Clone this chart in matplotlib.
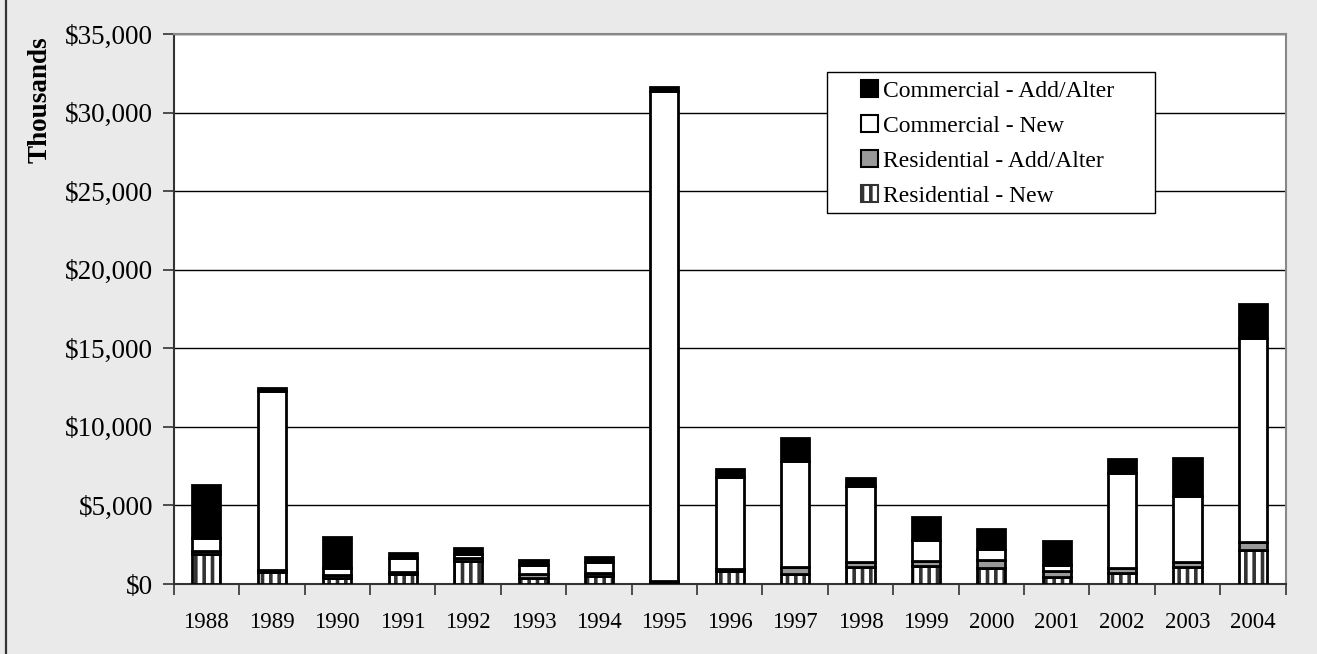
import matplotlib
matplotlib.use('Agg')
import matplotlib.pyplot as plt
import matplotlib.ticker as mticker
from matplotlib.patches import Patch, Rectangle
import numpy as np

years=['1988','1989','1990','1991','1992','1993','1994','1995','1996',
       '1997','1998','1999','2000','2001','2002','2003','2004']
# values in $ thousands
res_new=[1910,740,380,650,1490,380,530,100,820,640,1100,1170,1040,470,720,1060,2170]
res_add=[200,150,200,100,150,250,200,100,150,420,280,320,490,380,320,360,530]
comm_new=[790,11390,450,900,300,550,700,31200,5850,6740,4850,1280,680,360,6010,4210,12960]
comm_add=[3400,200,1960,320,380,330,260,200,500,1510,530,1490,1300,1550,930,2420,2130]

plt.rcParams['font.family']=['Liberation Serif','DejaVu Serif']
plt.rcParams['hatch.linewidth']=2.6

W,H=1317,654
fig=plt.figure(figsize=[W/100,H/100],dpi=100,facecolor='#eaeaea')
ax=fig.add_axes([0.1319,0.107,0.8443,0.841])
ax.set_facecolor('white')

x=np.arange(len(years))
w=0.43
lw=2.0
b1=np.array(res_new)
b2=b1+np.array(res_add)
b3=b2+np.array(comm_new)

# residential new: striped fill, then outline on top
ax.bar(x,res_new,w,color='white',edgecolor='#333333',hatch='||',linewidth=0,zorder=3)
ax.bar(x,res_new,w,color='none',edgecolor='black',linewidth=lw,zorder=4)
ax.bar(x,res_add,w,bottom=b1,color='#999999',edgecolor='black',linewidth=lw,zorder=4)
ax.bar(x,comm_new,w,bottom=b2,color='white',edgecolor='black',linewidth=lw,zorder=4)
ax.bar(x,comm_add,w,bottom=b3,color='black',edgecolor='black',linewidth=lw,zorder=4)

ax.set_xlim(-0.5,len(years)-0.5)
ax.set_ylim(0,35000)
ax.yaxis.set_major_locator(mticker.MultipleLocator(5000))
ax.yaxis.set_major_formatter(mticker.FuncFormatter(lambda v,p: f'${v:,.0f}'))
ax.grid(axis='y',color='black',linewidth=1.0,zorder=1)
ax.set_axisbelow(True)

ax.set_xticks(x)
ax.set_xticklabels(years,fontsize=16.5)
ax.set_xticks(np.arange(-0.5,len(years)),minor=True)
ax.tick_params(axis='x',which='major',length=0,pad=20)
ax.tick_params(axis='x',which='minor',length=8,width=1.2,color='#333333',direction='out')
ax.tick_params(axis='y',labelsize=19.5,length=8,width=1.2,color='#333333',direction='out',pad=7)

for s in ['top','right']:
    ax.spines[s].set_color('#888888')
    ax.spines[s].set_linewidth(1.5)
for s in ['left','bottom']:
    ax.spines[s].set_color('#333333')
    ax.spines[s].set_linewidth(1.5)

fig.text(40/W,1-100/H,'Thousands',rotation=90,fontsize=19.5,fontweight='bold',
         ha='center',va='center')

# left edge frame line
fig.add_artist(plt.Line2D([6/W,6/W],[0,1],color='#333333',linewidth=1.6))

handles=[Patch(facecolor='black',edgecolor='black',linewidth=1.5,label='Commercial - Add/Alter'),
         Patch(facecolor='white',edgecolor='black',linewidth=1.5,label='Commercial - New'),
         Patch(facecolor='#999999',edgecolor='black',linewidth=1.5,label='Residential - Add/Alter'),
         Patch(facecolor='white',edgecolor='#333333',hatch='||',linewidth=1.5,label='Residential - New')]
# legend box drawn separately for wider padding
fig.add_artist(Rectangle((827/W,1-213/H),(1155-827)/W,(213-72)/H,transform=fig.transFigure,
                         facecolor='white',edgecolor='black',linewidth=1.0,zorder=9))
leg=fig.legend(handles=handles,loc='upper left',bbox_to_anchor=(861/W,1-80/H),fontsize=17,
               frameon=False,borderpad=0,labelspacing=0.57,handlelength=0.72,handleheight=0.72,
               handletextpad=0.2,borderaxespad=0)
leg.set_zorder(10)

plt.savefig('out.png',dpi=100,facecolor=fig.get_facecolor())
